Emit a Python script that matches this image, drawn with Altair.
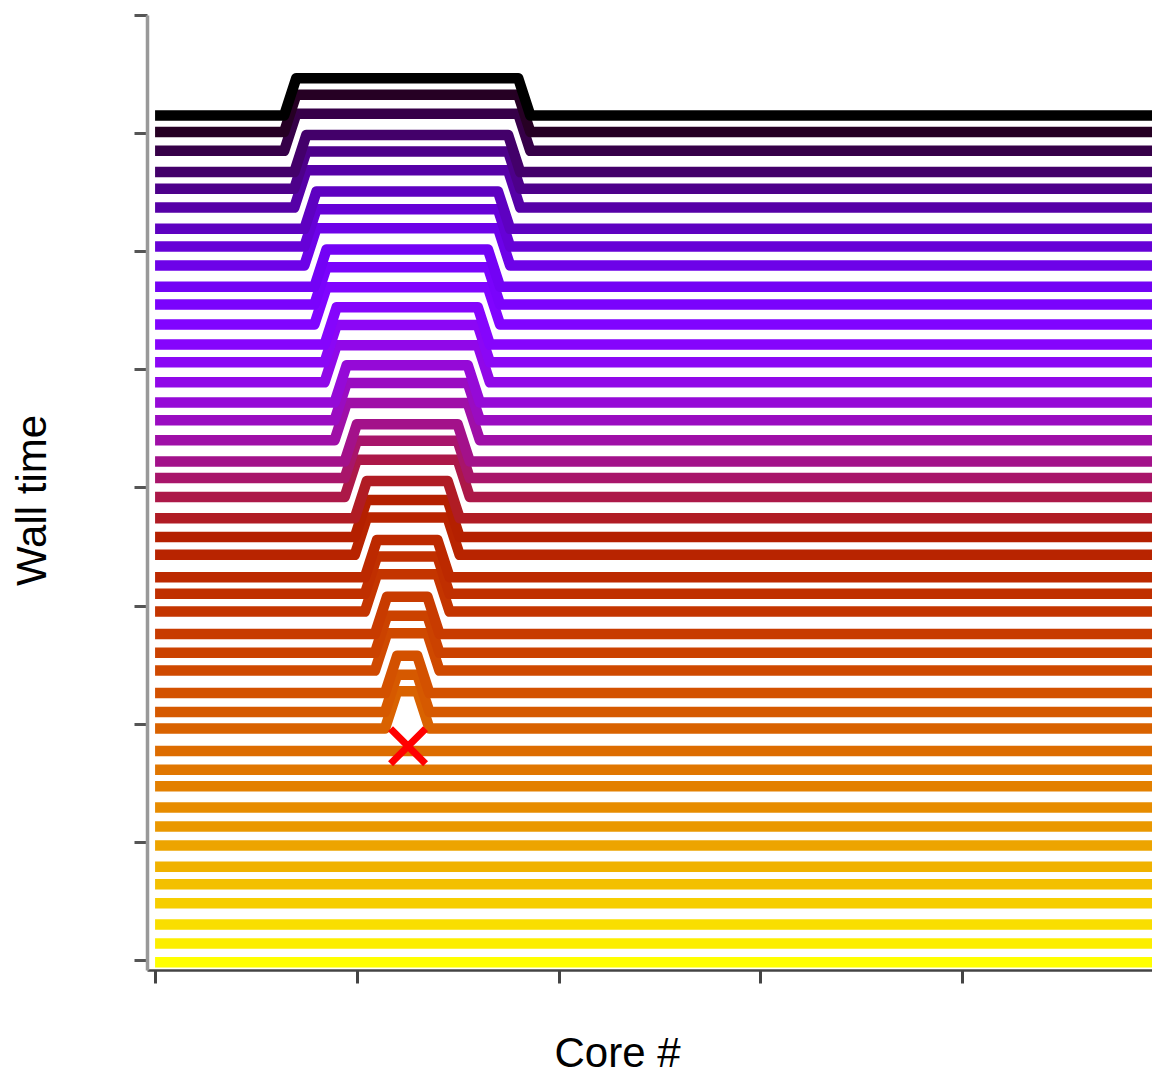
import math
import altair as alt
import pandas as pd

# Baseline (wall time) of each line, bottom (yellow) to top (black)
baselines = [-0.02, 0.14, 0.30, 0.48, 0.64, 0.79, 0.97, 1.13, 1.29, 1.47, 1.61, 1.77,
             1.96, 2.10, 2.26, 2.45, 2.60, 2.76, 2.95, 3.10, 3.24, 3.43, 3.58, 3.74,
             3.92, 4.08, 4.22, 4.40, 4.57, 4.72, 4.89, 5.06, 5.21, 5.38, 5.55, 5.70,
             5.88, 6.04, 6.19, 6.37, 6.53, 6.67, 6.85, 7.01, 7.15]

# Bump extents (core #) for line triplets 4..14
bump_triplets = [4, 5, 6, 7, 8, 9, 10, 11, 12, 13, 14]
bump_left_top = [12.0, 11.5, 11.0, 10.5, 10.0, 9.5, 9.0, 8.5, 8.0, 7.5, 7.0]
bump_right_top = [13.0, 13.5, 14.0, 14.5, 15.0, 15.5, 16.0, 16.5, 17.0, 17.5, 18.0]
bump_ramp = 0.6
bump_height = 0.315

x_ticks = [0, 10, 20, 30, 40]
y_ticks = [0, 1, 2, 3, 4, 5, 6, 7, 8]
x_min, x_max = -0.4, 49.42

marker_core = [12.54]
marker_time = [1.81]

n = len(baselines)


def gnuplot(v):
    r = math.sqrt(v)
    g = v ** 3
    b = max(0.0, math.sin(2 * math.pi * v))
    return "#%02x%02x%02x" % (round(r * 255), round(g * 255), round(b * 255))


rows = []
line_ids = []
colors = []
for i, b in enumerate(baselines):
    lid = "L%02d" % i
    line_ids.append(lid)
    colors.append(gnuplot((n - 1 - i) / (n - 1)))
    trip = i // 3
    if trip in bump_triplets:
        k = bump_triplets.index(trip)
        lt, rt = bump_left_top[k], bump_right_top[k]
        pts = [(0, b), (lt - bump_ramp, b), (lt, b + bump_height),
               (rt, b + bump_height), (rt + bump_ramp, b), (x_max, b)]
    else:
        pts = [(0, b), (x_max, b)]
    for s, (x, y) in enumerate(pts):
        rows.append({"line": lid, "seq": s, "core": x, "t": y})

df = pd.DataFrame(rows)
mdf = pd.DataFrame({"core": marker_core, "t": marker_time})

xscale = alt.Scale(domain=[x_min, x_max], nice=False, zero=False)
yscale = alt.Scale(domain=[-0.085, 8], nice=False, zero=False)

xaxis = alt.Axis(values=x_ticks, labels=False, tickSize=13, tickWidth=3,
                 tickColor="#444444", domainColor="#444444", domainWidth=2.5,
                 grid=False, title="Core #", titleFontSize=42,
                 titleFont="Liberation Sans", titleFontWeight="normal",
                 titleColor="black", titleX=470, titleY=96,
                 titleBaseline="alphabetic", titleAlign="center")
yaxis = alt.Axis(values=y_ticks, labels=False, tickSize=13, tickWidth=3,
                 tickColor="#555555", domainColor="#999999", domainWidth=3.5,
                 grid=False, title="Wall time", titleFontSize=42,
                 titleFont="Liberation Sans", titleFontWeight="normal",
                 titleColor="black", titleX=-115, titleY=485,
                 titleAngle=-90, titleBaseline="middle", titleAlign="center")

lines = alt.Chart(df).mark_line(strokeWidth=10.5, strokeJoin="round", strokeCap="butt").encode(
    x=alt.X("core:Q", scale=xscale, axis=xaxis),
    y=alt.Y("t:Q", scale=yscale, axis=yaxis),
    color=alt.Color("line:N", scale=alt.Scale(domain=line_ids, range=colors), legend=None),
    order=alt.Order("seq:Q"),
)

marker = alt.Chart(mdf).mark_point(
    shape="M-1,-1L1,1M-1,1L1,-1", filled=False, stroke="#ff0000",
    strokeWidth=7, size=1225, opacity=1
).encode(
    x=alt.X("core:Q", scale=xscale),
    y=alt.Y("t:Q", scale=yscale),
)

chart = alt.layer(lines, marker).properties(
    width=1005, height=955,
    padding={"left": 147, "top": 15, "right": 0, "bottom": 106},
    autosize=alt.AutoSizeParams(type="none"),
    background="white",
).configure_view(stroke=None, strokeWidth=0)

chart.save("out.html", embed_options={"renderer": "svg", "actions": False})
